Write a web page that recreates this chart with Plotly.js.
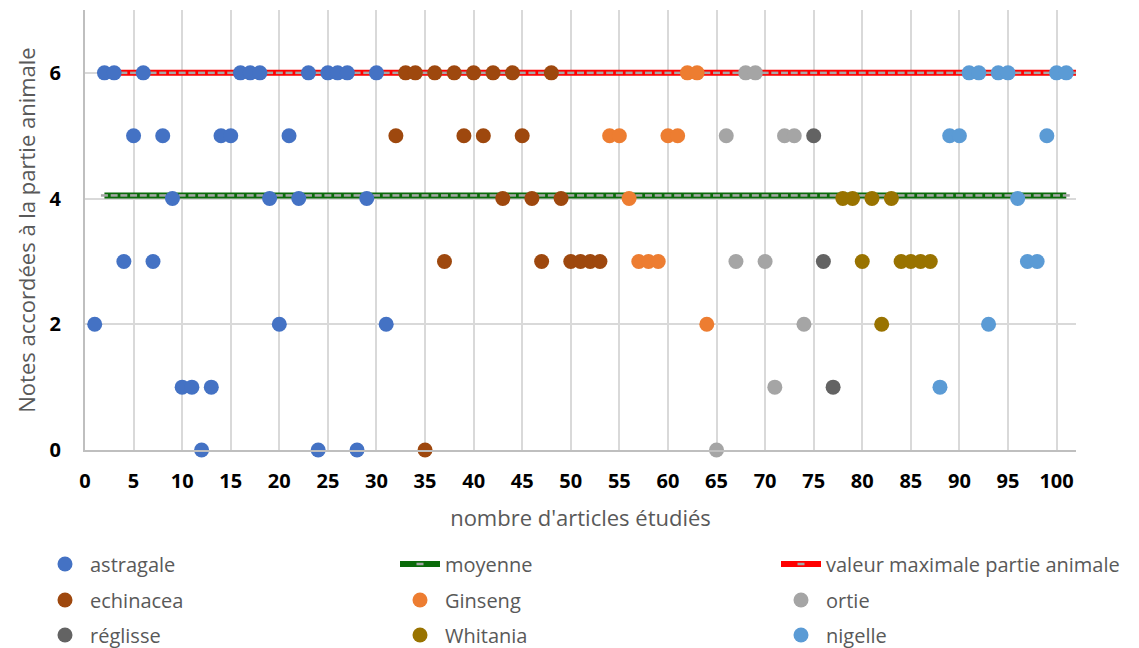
<!DOCTYPE html>
<html>
<head>
<meta charset="utf-8">
<script src="https://cdn.plot.ly/plotly-3.0.1.min.js"></script>
<style>
  html, body { margin: 0; padding: 0; background: #fff; }
  #chart { width: 1139px; height: 648px; }
</style>
</head>
<body>
<div id="chart"></div>
<script>
// ---- data ----
const astragaleX = [1,2,3,4,5,6,7,8,9,10,11,12,13,14,15,16,17,18,19,20,21,22,23,24,25,26,27,28,29,30,31];
const astragaleY = [2,6,6,3,5,6,3,5,4,1,1,0,1,5,5,6,6,6,4,2,5,4,6,0,6,6,6,0,4,6,2];
const echinaceaX = [32,33,34,35,36,37,38,39,40,41,42,43,44,45,46,47,48,49,50,51,52,53];
const echinaceaY = [5,6,6,0,6,3,6,5,6,5,6,4,6,5,4,3,6,4,3,3,3,3];
const ginsengX = [54,55,56,57,58,59,60,61,62,63,64];
const ginsengY = [5,5,4,3,3,3,5,5,6,6,2];
const ortieX = [65,66,67,68,69,70,71,72,73,74];
const ortieY = [0,5,3,6,6,3,1,5,5,2];
const reglisseX = [75,76,77];
const reglisseY = [5,3,1];
const whitaniaX = [78,79,80,81,82,83,84,85,86,87];
const whitaniaY = [4,4,3,4,2,4,3,3,3,3];
const nigelleX = [88,89,90,91,92,93,94,95,96,97,98,99,100,101];
const nigelleY = [1,5,5,6,6,2,6,6,4,3,3,5,6,6];

const moyenneValue = 4.05;
const maxValue = 6;
const maxLineEndX = 102;

const xTicks = [0,5,10,15,20,25,30,35,40,45,50,55,60,65,70,75,80,85,90,95,100];
const yTicks = [0,2,4,6];

// ---- derived ----
const allX = [].concat(astragaleX, echinaceaX, ginsengX, ortieX, reglisseX, whitaniaX, nigelleX);
const moyenneX = allX.slice(1);
const moyenneY = moyenneX.map(() => moyenneValue);
const maxX = moyenneX.concat([maxLineEndX]);
const maxY = maxX.map(() => maxValue);

function pts(name, x, y, color, legend) {
  return {
    type: 'scatter', mode: 'markers', name: name, x: x, y: y,
    marker: { color: color, size: 15, line: { width: 0 } },
    legend: legend, cliponaxis: false
  };
}
function lineTrace(name, x, y, color, legend) {
  return {
    type: 'scatter', mode: 'lines+markers', name: name, x: x, y: y,
    line: { color: color, width: 6 },
    marker: { symbol: 'line-ew', size: 5, color: '#A6A6A6', line: { color: '#A6A6A6', width: 2.5 } },
    legend: legend
  };
}

// one legend box per cell of the 3x3 legend grid under the chart
const traces = [
  lineTrace('moyenne', moyenneX, moyenneY, '#0A6B0A', 'legend2'),
  lineTrace('valeur maximale partie animale', maxX, maxY, '#FF0000', 'legend3'),
  pts('astragale', astragaleX, astragaleY, '#4472C4', 'legend'),
  pts('echinacea', echinaceaX, echinaceaY, '#9E480E', 'legend4'),
  pts('Ginseng', ginsengX, ginsengY, '#ED7D31', 'legend5'),
  pts('ortie', ortieX, ortieY, '#A5A5A5', 'legend6'),
  pts('réglisse', reglisseX, reglisseY, '#636363', 'legend7'),
  pts('Whitania', whitaniaX, whitaniaY, '#997300', 'legend8'),
  pts('nigelle', nigelleX, nigelleY, '#5B9BD5', 'legend9')
];

function legendCell(xPx, yPx) {
  return {
    orientation: 'h', xref: 'container', yref: 'container',
    x: xPx / 1139, xanchor: 'left', y: 1 - yPx / 648, yanchor: 'middle',
    itemwidth: 40, bgcolor: 'rgba(0,0,0,0)',
    font: { size: 20, color: '#595959', family: 'Open Sans, sans-serif' }
  };
}

const colX = [40, 395, 776];
const rowY = [564, 600, 635];

const layout = {
  width: 1139, height: 648,
  margin: { l: 85, r: 63, t: 10, b: 198 },
  paper_bgcolor: '#fff', plot_bgcolor: '#fff',
  font: { family: 'Open Sans, sans-serif', color: '#595959' },
  showlegend: true,
  xaxis: {
    range: [0, 102], tickvals: xTicks, ticktext: xTicks.map(String),
    showgrid: true, gridcolor: '#D9D9D9', gridwidth: 2,
    zeroline: false, showline: true, linecolor: '#BFBFBF', linewidth: 2,
    ticks: '', ticklabelstandoff: 12,
    tickfont: { size: 20, color: '#000', family: 'Open Sans, sans-serif', weight: 'bold' },
    title: { text: "nombre d'articles étudiés", font: { size: 22, color: '#595959' }, standoff: 18 }
  },
  yaxis: {
    range: [0, 7], tickvals: yTicks, ticktext: yTicks.map(String),
    showgrid: true, gridcolor: '#D9D9D9', gridwidth: 2,
    zeroline: false, showline: true, linecolor: '#BFBFBF', linewidth: 2,
    ticks: '', ticklabelstandoff: 18,
    tickfont: { size: 20, color: '#000', family: 'Open Sans, sans-serif', weight: 'bold' },
    title: { text: 'Notes accordées à la partie animale', font: { size: 22, color: '#595959' }, standoff: 8 }
  },
  legend:  legendCell(colX[0], rowY[0]),
  legend2: legendCell(colX[1], rowY[0]),
  legend3: legendCell(colX[2], rowY[0]),
  legend4: legendCell(colX[0], rowY[1]),
  legend5: legendCell(colX[1], rowY[1]),
  legend6: legendCell(colX[2], rowY[1]),
  legend7: legendCell(colX[0], rowY[2]),
  legend8: legendCell(colX[1], rowY[2]),
  legend9: legendCell(colX[2], rowY[2])
};

Plotly.newPlot('chart', traces, layout, { displayModeBar: false, staticPlot: true });
</script>
</body>
</html>
